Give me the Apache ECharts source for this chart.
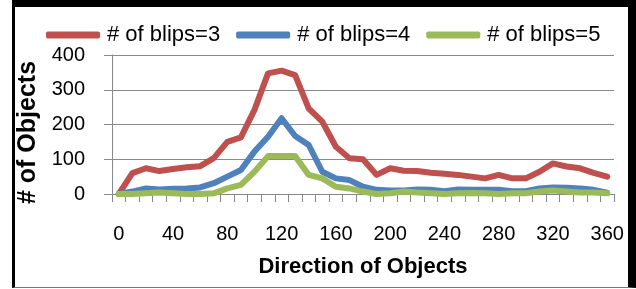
<!DOCTYPE html>
<html>
<head>
<meta charset="utf-8">
<script src="https://cdn.jsdelivr.net/npm/echarts@6/dist/echarts.min.js"></script>
<style>
    html, body { margin: 0; padding: 0; background: #fff; }
    #wrap { position: relative; width: 636px; height: 289px; }
    #blips_chart { position: absolute; left: 0; top: 0; width: 636px; height: 289px; }
    #frame {
        position: absolute; left: 12px; top: 0; right: 0; bottom: 1px;
        border-left: 3px solid #000; border-top: 7px solid #000;
        border-right: 8px solid #000; border-bottom: 1px solid #777;
        pointer-events: none;
    }
</style>
</head>
<body>
<div id="wrap">
    <div id="blips_chart"></div>
    <div id="frame"></div>
</div>
<script>
// Chart data
// ------------------------------

var directions = [];
for (var d = 0; d <= 360; d += 10) directions.push(String(d));

var blips3 = [0, 60, 74, 66, 72, 77, 80, 103, 150, 163, 242, 347, 355, 342, 246, 208, 136, 103, 100,
    55, 74, 67, 66, 61, 58, 55, 50, 45, 55, 45, 45, 64, 88, 79, 74, 61, 50];
var blips4 = [0, 7, 16, 13, 15, 16, 19, 31, 50, 69, 122, 165, 218, 167, 141, 64, 45, 40, 21,
    12, 10, 10, 13, 12, 8, 13, 12, 12, 12, 8, 8, 16, 19, 18, 16, 12, 4];
var blips5 = [0, 0, 2, 4, 2, 0, 0, 2, 16, 26, 64, 109, 109, 109, 55, 45, 21, 16, 7,
    0, 2, 7, 4, 2, 0, 2, 3, 2, 0, 2, 2, 7, 10, 7, 4, 4, 2];

var seriesNames = ['# of blips=3', '# of blips=4', '# of blips=5'];
var seriesColors = ['#C0504D', '#4F81BD', '#9BBB59'];


// Initialize
// ------------------------------

var fontName = '"Liberation Sans Narrow", "Liberation Sans", sans-serif';
var chart = echarts.init(document.getElementById('blips_chart'), null, { renderer: 'canvas' });

var makeSeries = function(name, data, color) {
    return {
        name: name,
        type: 'line',
        data: data,
        showSymbol: false,
        symbol: 'none',
        animation: false,
        lineStyle: { color: color, width: 6, cap: 'round', join: 'round' },
        itemStyle: { color: color }
    };
};

chart.setOption({
    animation: false,
    textStyle: { fontFamily: fontName, color: '#000' },
    color: seriesColors,

    grid: { left: 112, right: 22, top: 55, bottom: 95 },

    legend: {
        left: 41,
        top: 19,
        itemWidth: 54,
        itemHeight: 7,
        itemGap: 16,
        icon: 'roundRect',
        textStyle: { fontFamily: fontName, fontSize: 22, color: '#000', padding: [0, 0, 0, 2] },
        data: seriesNames
    },

    xAxis: {
        type: 'category',
        data: directions,
        boundaryGap: true,
        name: 'Direction of Objects',
        nameLocation: 'middle',
        nameGap: 62,
        nameTextStyle: { fontFamily: fontName, fontSize: 22, fontWeight: 'bold', color: '#000' },
        axisLine: { show: true, lineStyle: { color: '#888', width: 1 } },
        axisTick: { show: true, interval: 0, length: 8, lineStyle: { color: '#888' } },
        axisLabel: { interval: 3, margin: 30, fontSize: 20, color: '#000', fontFamily: fontName },
        splitLine: { show: false }
    },

    yAxis: {
        type: 'value',
        min: 0,
        max: 400,
        interval: 100,
        name: '# of Objects',
        nameLocation: 'middle',
        nameGap: 70,
        nameRotate: 90,
        nameTextStyle: { fontFamily: fontName, fontSize: 25, fontWeight: 'bold', color: '#000', padding: [0, 16, 0, 0] },
        axisLine: { show: true, lineStyle: { color: '#888', width: 1 } },
        axisTick: { show: true, length: 8, lineStyle: { color: '#888' } },
        axisLabel: { margin: 27, fontSize: 20, color: '#000', fontFamily: fontName },
        splitLine: { show: true, lineStyle: { color: '#8a8a8a', width: 1 } }
    },

    series: [
        makeSeries(seriesNames[0], blips3, seriesColors[0]),
        makeSeries(seriesNames[1], blips4, seriesColors[1]),
        makeSeries(seriesNames[2], blips5, seriesColors[2])
    ]
});
</script>
</body>
</html>
